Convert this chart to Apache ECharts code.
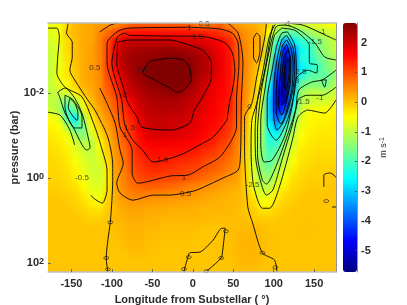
<!DOCTYPE html>
<html><head><meta charset="utf-8">
<style>html,body{margin:0;padding:0;background:#fff}#c{width:407px;height:305px}</style>
<script src="https://cdn.jsdelivr.net/npm/echarts@6/dist/echarts.min.js"></script>
</head><body><div id="c"></div>
<script>
const lonCentres=[-175,-165,-155,-145,-135,-125,-115,-105,-95,-85,-75,-65,-55,-45,-35,-25,-15,-5,5,15,25,35,45,55,65,75,85,95,105,115,125,135,145,155,165,175];
const logPressure=[-3.6,-3.4,-3.2,-3,-2.8,-2.6,-2.4,-2.2,-2,-1.8,-1.6,-1.4,-1.2,-1,-.8,-.6,-.4,-.2,0,.2,.4,.6,.8,1,1.2,1.4,1.6,1.8,2,2.2];
const xTicks=[-150,-100,-50,0,50,100,150];
const yTicks=[-2,0,2];
const barTicks=[-5,-4,-3,-2,-1,0,1,2];
const windRows=[
[-.6,-.5,-.2,.1,.2,.25,.35,.4,.5,.7,.85,.9,.9,.9,.9,.9,.9,.85,.65,.6,.75,.8,.5,.35,.25,.2,.1,-.25,-.9,-1,-.95,-.9,-.8,-.7,-.6,-.5],
[-.75,-.55,-.05,.1,.2,.25,.5,.75,1,1.4,1.5,1.5,1.5,1.5,1.5,1.5,1.5,1.5,1.45,1.45,1.35,1.2,1.05,.65,.45,.3,.1,-.5,-1.4,-1.8,-1.9,-1.6,-1.3,-1.1,-.95,-.85],
[-.85,-.6,-.2,.05,.2,.25,.55,1,1.6,2,2.1,2.1,2.1,2.1,2.1,2.05,2,1.95,1.9,1.85,1.75,1.6,1.35,.9,.45,.3,.15,-.9,-2.2,-3.3,-2.7,-2.2,-2,-1.6,-1.25,-.95],
[-.9,-.65,-.2,.05,.2,.3,.55,1.05,1.7,2.2,2.3,2.35,2.4,2.4,2.45,2.45,2.4,2.35,2.25,2.1,1.9,1.7,1.45,.95,.5,.25,.1,-1.1,-2.8,-4.6,-3.5,-2.5,-2.2,-1.6,-1.3,-1],
[-.95,-.65,-.25,.05,.2,.3,.5,1.05,1.85,2.25,2.4,2.45,2.5,2.55,2.6,2.6,2.6,2.5,2.4,2.25,2,1.75,1.5,.95,.5,.25,0,-1.4,-3.3,-5.3,-3.8,-2.3,-2.3,-1.8,-1.5,-1.2],
[-.95,-.65,-.3,0,.2,.35,.5,1.1,1.7,2.2,2.4,2.5,2.6,2.65,2.65,2.7,2.7,2.65,2.4,2.25,2,1.75,1.5,.95,.5,.2,-.2,-1.5,-3.8,-5.7,-3.7,-2.6,-2.3,-2.1,-1.6,-1.35],
[-.95,-.55,-.3,-.05,.2,.3,.45,1,1.5,2,2.3,2.45,2.55,2.65,2.7,2.7,2.7,2.65,2.35,2.15,1.95,1.7,1.5,.95,.5,.15,-.35,-2,-4.2,-5.7,-3.4,-2.3,-1.9,-1.8,-1.75,-1.4],
[-.95,-.65,-.5,-.1,.15,.25,.45,.9,1.3,1.9,2.2,2.35,2.5,2.55,2.6,2.65,2.65,2.5,2.25,2,1.8,1.65,1.5,.95,.5,.1,-.5,-2.4,-4.5,-5.7,-3.2,-1.7,-1.55,-1.5,-1.65,-1.2],
[-1,-.9,-.8,-.4,0,.2,.45,.8,1.1,1.7,2.05,2.2,2.35,2.4,2.45,2.5,2.45,2.3,2.15,1.95,1.75,1.6,1.5,.95,.5,.05,-.6,-2.8,-4.7,-5.6,-2.9,-1.3,-1.05,-1,-1.1,-.9],
[-1,-1.1,-1.6,-1.1,-.4,.05,.4,.65,.95,1.4,1.8,2.1,2.2,2.3,2.3,2.3,2.25,2.15,2,1.85,1.7,1.55,1.45,.95,.45,-.1,-.8,-3,-4.7,-5,-2.5,-1.1,-.9,-.85,-.85,-.7],
[-.9,-1.15,-2.1,-1.7,-.7,-.1,.25,.55,.85,1.2,1.55,1.95,2.15,2.2,2.25,2.2,2.2,2.05,1.95,1.8,1.65,1.55,1.4,.95,.35,-.25,-.9,-3,-4.5,-4.1,-2.1,-.9,-.6,-.55,-.5,-.45],
[-.55,-.7,-1.9,-2.7,-1.2,-.35,.1,.4,.75,1.1,1.4,1.8,2.05,2.1,2.1,2.05,2.05,1.95,1.85,1.7,1.6,1.5,1.25,.9,.25,-.5,-1,-2.9,-3.9,-3,-1.6,-.7,-.45,-.4,-.4,-.35],
[-.4,-.5,-1.1,-2,-1.6,-.6,-.05,.3,.65,1,1.3,1.75,2,2.05,2.05,2,2,1.9,1.8,1.65,1.55,1.45,1.2,.8,.15,-.55,-1.05,-2.6,-3.2,-2.1,-1.2,-.6,-.4,-.35,-.35,-.3],
[-.3,-.4,-.6,-1.2,-1.5,-.85,-.25,.15,.55,.9,1.25,1.55,1.85,1.9,1.9,1.9,1.85,1.8,1.7,1.55,1.45,1.3,1.1,.7,.1,-.6,-1.2,-2.4,-2.5,-1.6,-.95,-.5,-.35,-.3,-.3,-.3],
[-.25,-.3,-.45,-.8,-1.05,-1.05,-.5,0,.45,.8,1.15,1.5,1.65,1.7,1.7,1.65,1.65,1.6,1.55,1.45,1.35,1.15,1,.6,.05,-.65,-1.3,-2.2,-2.1,-1.3,-.8,-.4,-.3,-.25,-.25,-.25],
[-.2,-.25,-.35,-.65,-.85,-.95,-.65,-.1,.4,.7,1.05,1.35,1.5,1.55,1.5,1.5,1.5,1.45,1.4,1.25,1.15,1,.85,.55,-.05,-.75,-1.35,-2,-1.75,-1.1,-.65,-.3,-.25,-.2,-.2,-.2],
[-.18,-.2,-.3,-.55,-.75,-.9,-.8,-.2,.35,.65,1,1.25,1.35,1.45,1.4,1.35,1.3,1.25,1.2,1.05,.95,.85,.7,.5,-.1,-.8,-1.45,-1.9,-1.45,-.9,-.5,-.25,-.2,-.15,-.15,-.15],
[-.15,-.18,-.25,-.4,-.65,-.85,-.85,-.3,.3,.6,.95,1.15,1.25,1.3,1.25,1.2,1.15,1.1,1.05,.95,.85,.75,.6,.45,-.1,-.75,-1.4,-1.6,-1.1,-.7,-.35,-.2,-.15,-.1,-.1,-.1],
[-.12,-.15,-.2,-.35,-.55,-.8,-.85,-.35,.25,.55,.8,1.05,1.1,1.1,1.05,1.05,1,.95,.85,.75,.65,.55,.4,.3,-.05,-.75,-1.2,-1.35,-.9,-.5,-.25,-.15,-.1,-.1,-.05,-.05],
[-.1,-.1,-.15,-.25,-.45,-.7,-.75,-.3,.25,.5,.7,.8,.85,.85,.8,.75,.7,.6,.55,.45,.4,.3,.25,.2,-.05,-.6,-1,-1.05,-.6,-.35,-.15,-.1,-.05,-.05,-.05,0],
[-.05,-.05,-.1,-.15,-.3,-.6,-.65,-.2,.2,.45,.55,.6,.55,.5,.5,.45,.45,.4,.35,.3,.25,.2,.15,.1,0,-.35,-.8,-.7,-.35,-.2,-.1,-.05,0,0,0,0],
[0,0,-.05,-.1,-.2,-.35,-.45,-.1,.15,.3,.35,.35,.35,.3,.3,.3,.25,.25,.2,.2,.15,.15,.1,.1,0,-.15,-.5,-.45,-.2,-.1,-.05,0,0,0,0,0],
[0,0,0,-.05,-.1,-.2,-.2,-.05,.1,.2,.25,.25,.2,.2,.2,.15,.15,.15,.15,.1,.1,.1,.1,.05,0,-.05,-.2,-.2,-.1,-.05,0,0,0,0,0,0],
[0,0,0,0,-.05,-.1,-.05,0,.1,.15,.2,.2,.15,.15,.1,.1,.1,.1,.1,.1,.05,.05,.05,.05,.05,-.02,-.05,-.05,-.02,0,0,0,0,0,0,0],
[0,0,0,0,0,0,0,0,.05,.1,.15,.15,.1,.1,.05,.05,.05,.05,.05,0,0,0,.05,.05,.1,.1,.05,0,0,0,0,.02,.02,0,0,0],
[0,0,0,0,0,0,0,0,.03,.08,.12,.12,.08,.05,.03,.03,.03,.02,0,0,0,0,.03,.08,.12,.12,.08,.02,0,0,0,0,0,0,0,0],
[0,0,0,0,0,0,0,0,0,.05,.1,.1,.05,.02,0,0,0,0,0,0,0,.02,.03,.1,.13,.13,.08,.02,0,0,0,0,0,0,0,0],
[0,0,0,0,0,0,0,0,0,0,.04,.05,.02,0,0,0,0,0,0,0,0,0,.03,.08,.12,.12,.07,.02,0,0,0,0,0,0,0,0],
[0,0,0,0,0,0,0,0,0,0,0,0,0,0,0,0,0,0,0,0,0,0,0,.05,.1,.1,.05,0,0,0,0,0,0,0,0,0],
[0,0,0,0,0,0,0,0,0,0,0,0,0,0,0,0,0,0,0,0,0,0,0,.05,.05,.05,0,0,0,0,0,0,0,0,0,0]
];
const contourLines=[
[[-154,-3.65],[-156,-3.41],[-149,-3.2],[-149,-2.85],[-152,-2.54],[-146,-2.31],[-130,-1.84],[-121,-1.6],[-105,-.96],[-99,-.31],[-99,.05],[-100,.52],[-102,1.04],[-105,1.46],[-107,1.88],[-105,2.21]],
[[91,-3.65],[89,-3.32],[79,-2.38],[73,-1.76],[64,-1.44],[64,-.66],[68,.68],[74,1.06],[86,1.76],[101,1.93],[104,2.21]],
[[75,-3.29],[79,-3.41],[83,-3.32],[83,-3.01],[79,-2.71],[75,-2.85],[75,-3.29]],
[[-11,2.21],[-10,2.12],[-6,1.86],[-4,1.76],[9,1.74],[25,1.46],[36,1.18],[40,1.18],[37,1.69],[35,1.88],[17,2.19]],
[[162,.21],[162,-.07],[170,-.12],[177,-.02]],
[[172,.68],[177,.68]],
[[-93,-3.65],[-102,-3.6],[-115,-3.44]],
[[-115,-2.12],[-106,-1.76],[-96,-1.29],[-90,-.66],[-86,-.35],[-94,.12],[-90,.35],[-74,.52],[-49,.4],[-28,.4],[-10,.35],[5,.28],[37,0],[56,-.19],[59,-.59],[60,-1.84],[62,-2.71],[56,-3.41],[43,-3.65]],
[[-4,-3.55],[-78,-3.53],[-90,-3.48],[-99,-3.36],[-106,-3.18],[-106,-2.71],[-94,-1.91],[-90,-1.2],[-75,-.66],[-75,-.12],[-68,.12],[-28,-.05],[-6,-.07],[12,-.26],[33,-.49],[48,-.89],[54,-1.2],[54,-1.84],[57,-2.71],[56,-3.18],[49,-3.41],[33,-3.51],[-4,-3.55]],
[[-4,-3.34],[-78,-3.36],[-84,-3.41],[-93,-3.32],[-99,-2.89],[-100,-2.71],[-88,-1.84],[-84,-1.25],[-74,-.89],[-62,-.66],[-49,-.38],[-16,-.54],[12,-.82],[25,-.96],[42,-1.36],[43,-1.48],[46,-1.84],[49,-2.07],[52,-2.54],[49,-2.94],[40,-3.18],[17,-3.32],[-4,-3.34]],
[[-93,-3.2],[-88,-3.22],[-78,-3.25],[-28,-3.25],[-16,-3.2],[12,-3.01],[23,-2.71],[23,-2.38],[12,-1.91],[2,-1.6],[-4,-1.29],[-28,-1.13],[-63,-1.2],[-69,-1.44],[-80,-1.76],[-86,-2.14],[-94,-2.71],[-93,-3.2]],
[[-53,-2.75],[-28,-2.82],[-12,-2.78],[-4,-2.61],[-2,-2.31],[-12,-2.07],[-19,-2.02],[-28,-2.12],[-47,-2.31],[-62,-2.49],[-53,-2.75]],
[[-179,-1.55],[-164,-1.48],[-152,-1.13],[-146,-.78]],
[[-126,.4],[-123,.47],[-112,.59],[-106,.28],[-106,-.19],[-112,-.66],[-121,-1.2],[-137,-1.91],[-158,-2.14],[-168,-2.47],[-167,-2.85],[-165,-3.32],[-168,-3.53],[-179,-3.53]],
[[-167,-2.02],[-164,-1.88],[-158,-1.53],[-148,-1.2],[-131,-.66],[-127,-.71],[-130,-1.01],[-137,-1.53],[-146,-1.88],[-158,-2.12],[-167,-2.02]],
[[-158,-1.95],[-158,-1.67],[-146,-1.18],[-137,-1.18],[-137,-1.44],[-148,-1.84],[-158,-1.95]],
[[-152,-1.88],[-154,-1.67],[-143,-1.36],[-142,-1.53],[-146,-1.76],[-152,-1.88]],
[[114,-3.65],[136,-3.6],[169,-3.32],[177,-3.25]],
[[102,-3.62],[95,-3.36],[88,-2.66],[80,-1.84],[77,-1.13],[78,-.42],[85,.16],[91,.4],[99,.28],[110,-.42],[123,-1.25],[130,-1.84],[132,-1.88],[141,-1.95],[160,-1.95],[177,-2.14]],
[[99,-3.6],[96,-3.32],[89,-2.54],[79,-1.76],[73,-1.36],[72,-.66],[75,.16],[86,.71],[95,.71],[107,.21],[123,-.89],[130,-1.44],[142,-1.6],[163,-1.53],[177,-1.84]],
[[177,-2.54],[160,-2.31],[147,-2.26],[131,-2.07],[127,-1.6],[117,-1.01],[101,-.19],[91,.14],[86,.05],[80,-.54],[80,-1.13],[84,-1.95],[90,-2.59],[98,-3.29],[104,-3.58],[114,-3.6],[132,-3.48],[151,-3.18],[163,-2.85],[177,-2.78]],
[[110,-3.53],[126,-3.48],[138,-3.29],[144,-3.13],[144,-2.71],[154,-2.66],[153,-2.47],[142,-2.54],[128,-2.35],[123,-1.72],[114,-1.01],[98,-.42],[88,-.38],[84,-.78],[84,-1.36],[89,-2.07],[95,-2.78],[101,-3.36],[110,-3.53]],
[[159,-2.31],[165,-2.31],[163,-2.14],[159,-2.31]],
[[117,-3.44],[110,-3.41],[104,-3.13],[98,-2.54],[92,-1.84],[92,-1.25],[97,-1.01],[103,-.89],[116,-1.32],[125,-1.95],[128,-2.54],[126,-3.13],[120,-3.36],[117,-3.44]],
[[116,-3.36],[110,-3.25],[104,-2.78],[100,-2.07],[100,-1.48],[104,-1.13],[112,-1.32],[122,-1.91],[126,-2.54],[124,-3.06],[116,-3.36]],
[[116,-3.25],[111,-3.13],[106,-2.66],[103,-1.95],[103,-1.55],[109,-1.27],[118,-1.72],[123,-2.19],[124,-2.73],[121,-3.08],[116,-3.25]],
[[116,-3.15],[111,-2.96],[108,-2.42],[106,-1.72],[110,-1.48],[116,-1.84],[121,-2.31],[121,-2.78],[116,-3.15]],
[[118,-3.01],[113,-2.85],[110,-2.31],[110,-1.72],[115,-1.84],[120,-2.42],[120,-2.82],[118,-3.01]],
[[118,-2.82],[114,-2.66],[113,-2.19],[115,-2.07],[119,-2.49],[119,-2.78],[118,-2.82]]
];
const labelLons=[-121,-62,-84,-78,-84,-37,-11,-9,14,-4,6,22,70,-137,117,160,151,132,127,136,157,74];
const labelLogP=[-2.59,-2.56,-1.95,-1.18,-1.01,-.42,0,.38,-3.62,-3.53,-3.32,-2.49,-1.67,0,-3.62,-3.44,-3.2,-2.49,-2.28,-1.79,-1.88,.16];
const labelTexts=['0.5','2.5','2','1.5','1','1.5','1','0.5','0.5','1','1.5','2','0','-0.5','-1','-1','-1.5','-2.5','-3','-1.5','-1','-2.5'];
const zeroMarks=[[-102,1.04],[-107,1.88],[-105,2.15],[-5,1.86],[-11,2.14],[35,1.88],[41,1.25],[17,2.19],[86,1.76],[102,2.1],[165,.54]];
const jet=['#000080','#0000ff','#0080ff','#00ffff','#80ff80','#ffff00','#ff8000','#ff0000','#800000'];

const cells=[];
windRows.forEach((row,r)=>row.forEach((v,c)=>cells.push([lonCentres[c],logPressure[r],v])));
const chart=echarts.init(document.getElementById('c'),null,{renderer:'canvas'});
const FONT='"Liberation Sans",Arial,sans-serif', INK='#2b2b2b';
const hidden={show:false};
const series=[{
  type:'custom',zlevel:0,xAxisIndex:0,yAxisIndex:0,silent:true,progressive:0,clip:false,animation:false,
  encode:{x:0,y:1},data:cells,
  renderItem(params,api){
    const lon=api.value(0),lp=api.value(1);
    const x0=lon===lonCentres[0]?lon-30:lon-5.5,x1=lon===lonCentres[lonCentres.length-1]?lon+30:lon+5.5;
    const y0=lp===logPressure[0]?lp-.6:lp-.11,y1=lp===logPressure[logPressure.length-1]?lp+.6:lp+.11;
    const a=api.coord([x0,y0]),b=api.coord([x1,y1]);
    return {type:'rect',shape:{x:a[0],y:a[1],width:b[0]-a[0],height:b[1]-a[1]},style:{fill:api.visual('color')}};
  }
}];
contourLines.forEach(pts=>series.push({
  type:'line',zlevel:1,xAxisIndex:0,yAxisIndex:0,data:pts,showSymbol:false,symbol:'none',smooth:.25,silent:true,animation:false,
  clip:true,lineStyle:{color:'#000',width:.9}
}));
series.push({type:'scatter',zlevel:1,xAxisIndex:0,yAxisIndex:0,data:zeroMarks,symbol:'circle',symbolSize:[5,3],silent:true,animation:false,
  itemStyle:{color:'rgba(0,0,0,0)',borderColor:'#111',borderWidth:.7}});
series.push({type:'scatter',zlevel:1,xAxisIndex:0,yAxisIndex:0,symbolSize:0,silent:true,animation:false,
  data:labelTexts.map((t,i)=>({name:t,value:[labelLons[i],labelLogP[i]]})),
  label:{show:true,position:'inside',formatter:'{b}',fontFamily:FONT,fontSize:8,color:'#222'}});

chart.setOption({
  animation:false,backgroundColor:'transparent',
  grid:[{left:48,top:23,width:288,height:249,outerBoundsMode:'none'},{left:343,top:23,width:14,height:249,outerBoundsMode:'none'}],
  xAxis:[
   {type:'value',gridIndex:0,min:-179,max:177,position:'bottom',zlevel:1,z:5,splitLine:hidden,
    name:'Longitude from Substellar ( °)',nameLocation:'middle',nameGap:22,nameMoveOverlap:false,
    nameTextStyle:{fontFamily:FONT,fontWeight:'bold',fontSize:11,color:INK},
    axisLine:{show:true,onZero:false,lineStyle:{color:'#bdbdbd',width:1.5}},
    axisTick:{show:true,inside:true,length:3,customValues:xTicks,lineStyle:{color:'#555',width:.8}},
    axisLabel:{customValues:xTicks,margin:6,fontFamily:FONT,fontWeight:'bold',fontSize:11,color:INK,showMinLabel:true,showMaxLabel:true}},
   {type:'value',gridIndex:0,min:-179,max:177,position:'top',zlevel:1,z:5,splitLine:hidden,axisTick:hidden,axisLabel:hidden,
    axisLine:{show:true,onZero:false,lineStyle:{color:'#bdbdbd',width:1.5}}},
   {type:'value',gridIndex:1,min:0,max:1,show:false}
  ],
  yAxis:[
   {type:'value',gridIndex:0,inverse:true,min:-3.65,max:2.21,position:'left',zlevel:1,z:5,splitLine:hidden,
    name:'pressure (bar)',nameLocation:'middle',nameGap:28,nameMoveOverlap:false,
    nameTextStyle:{fontFamily:FONT,fontWeight:'bold',fontSize:11,color:INK},
    axisLine:{show:false,onZero:false},
    axisTick:{show:true,inside:true,length:3,customValues:yTicks,lineStyle:{color:'#555',width:.8}},
    axisLabel:{customValues:yTicks,margin:4,color:INK,fontFamily:FONT,fontWeight:'bold',fontSize:11,
      formatter:v=>'10{s|'+v+'}',rich:{s:{fontFamily:FONT,fontWeight:'bold',fontSize:9,color:INK,verticalAlign:'top',padding:[0,0,4,0]}}}},
   {type:'value',gridIndex:0,inverse:true,min:-3.65,max:2.21,position:'right',zlevel:1,z:5,splitLine:hidden,axisTick:hidden,axisLabel:hidden,
    axisLine:{show:true,onZero:false,lineStyle:{color:'#777',width:.8}}},
   {type:'value',gridIndex:1,min:-5.72,max:2.66,position:'right',zlevel:1,z:6,splitLine:hidden,
    name:'{a|m s}{b|-1}',nameLocation:'middle',nameGap:22,nameRotate:90,nameMoveOverlap:false,
    nameTextStyle:{rich:{a:{fontFamily:FONT,fontSize:9,color:INK},b:{fontFamily:FONT,fontSize:7,color:INK,verticalAlign:'top'}}},
    axisLine:{show:true,onZero:false,lineStyle:{color:'#777',width:.8}},
    axisTick:{show:true,inside:true,length:2,customValues:barTicks,lineStyle:{color:'#444',width:.8}},
    axisLabel:{customValues:barTicks,margin:4,fontFamily:FONT,fontWeight:'bold',fontSize:11,color:INK}}
  ],
  visualMap:{type:'continuous',show:true,seriesIndex:0,dimension:2,min:-5.72,max:2.66,left:343,top:23,padding:0,
    itemWidth:14,itemHeight:249,calculable:false,realtime:false,hoverLink:false,zlevel:1,text:null,
    inRange:{color:jet}},
  series
});
const base=document.querySelector('canvas[data-zr-dom-id="zr_0"]')||document.querySelector('canvas');
base.style.filter='blur(2.2px)';
base.style.clipPath='inset(23px 71px 33px 48px)';
</script></body></html>
